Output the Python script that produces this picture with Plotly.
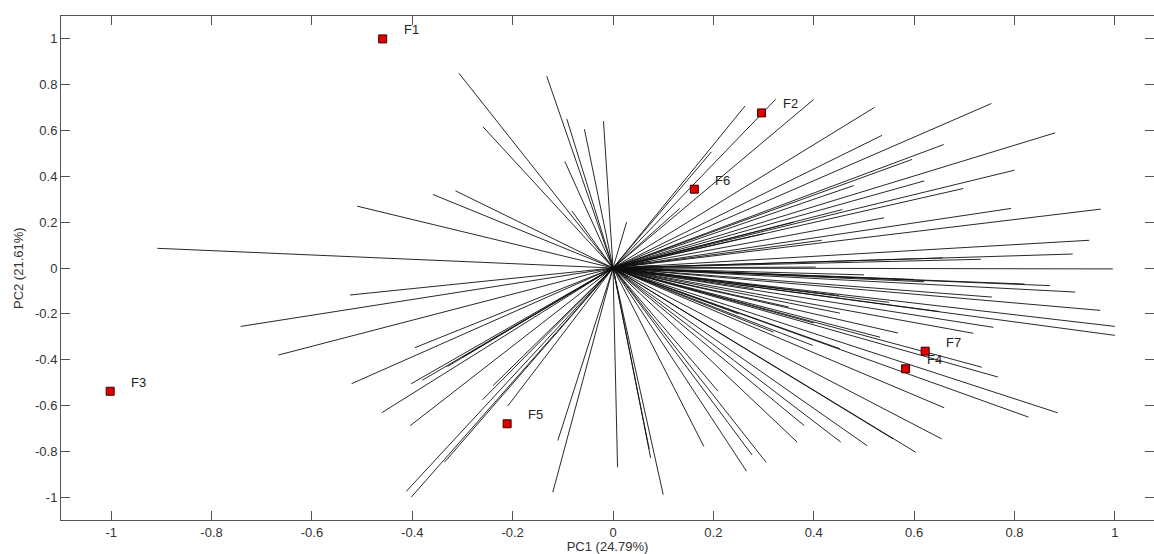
import plotly.graph_objects as go

# Sample scores (red squares)
sample_names = ["F1", "F2", "F3", "F4", "F5", "F6", "F7"]
sample_pc1 = [-0.459, 0.296, -1.002, 0.583, -0.211, 0.162, 0.622]
sample_pc2 = [1.000, 0.677, -0.538, -0.440, -0.680, 0.344, -0.363]

# Variable loadings (line end points, lines start at origin)
loading_pc1 = [
    -0.908, -0.510, -0.307, -0.132, -0.259, -0.092, -0.057, -0.019, -0.096, -0.359,
    -0.314, -0.082, 0.027, 0.263, 0.196, 0.324, 0.400, 0.521, 0.536, 0.754,
    0.659, 0.596, 0.881, 0.800, 0.698, 0.457, 0.540, 0.793, 0.972, 0.416,
    0.949, 0.916, 0.733, 0.996, 0.657, 0.133, 0.404, 0.600, 0.871, 0.921,
    0.755, 0.971, 1.000, 1.000, 0.758, 0.718, 0.568, 0.452, 0.452, 0.398,
    0.532, 0.735, 0.767, 0.886, 0.828, 0.660, 0.655, 0.603, 0.558, 0.506,
    0.454, 0.367, 0.381, 0.305, 0.277, 0.266, 0.209, 0.181, 0.100, 0.075,
    0.072, 0.009, -0.120, -0.110, -0.210, -0.239, -0.260, -0.336, -0.402, -0.412,
    -0.404, -0.402, -0.395, -0.461, -0.521, -0.667, -0.742, -0.524, 0.350, 0.280,
    0.400, 0.320, 0.250, 0.480, 0.620, 0.360, 0.300, 0.080, 0.090, 0.070,
    0.060, 0.085, 0.050, 0.100, 0.075, 0.040, 0.030, 0.620, 0.820, 0.500,
    0.450, 0.550, 0.650, -0.380, -0.330, -0.300,
]
loading_pc2 = [
    0.086, 0.270, 0.850, 0.837, 0.616, 0.650, 0.606, 0.641, 0.465, 0.321,
    0.337, 0.249, 0.200, 0.707, 0.507, 0.736, 0.736, 0.701, 0.579, 0.718,
    0.539, 0.474, 0.590, 0.427, 0.347, 0.255, 0.219, 0.260, 0.257, 0.121,
    0.121, 0.061, 0.038, -0.004, 0.044, 0.260, 0.004, -0.050, -0.077, -0.105,
    -0.127, -0.185, -0.255, -0.294, -0.259, -0.285, -0.284, -0.197, -0.352, -0.338,
    -0.302, -0.433, -0.476, -0.632, -0.651, -0.610, -0.746, -0.804, -0.746, -0.775,
    -0.760, -0.760, -0.688, -0.848, -0.816, -0.887, -0.537, -0.779, -0.989, -0.829,
    -0.790, -0.870, -0.979, -0.753, -0.603, -0.513, -0.575, -0.848, -1.000, -0.975,
    -0.688, -0.505, -0.348, -0.632, -0.505, -0.380, -0.255, -0.118, -0.170, -0.090,
    -0.240, -0.280, -0.200, 0.360, 0.380, 0.200, 0.150, 0.010, -0.010, -0.020,
    0.020, -0.030, -0.010, 0.000, 0.030, 0.030, -0.040, -0.060, -0.070, -0.030,
    -0.120, -0.150, -0.190, -0.490, -0.430, -0.390,
]

x_tick_vals = [-1, -0.8, -0.6, -0.4, -0.2, 0, 0.2, 0.4, 0.6, 0.8, 1]
x_tick_text = ["-1", "-0.8", "-0.6", "-0.4", "-0.2", "0", "0.2", "0.4", "0.6", "0.8", "1"]
y_tick_vals = [-1, -0.8, -0.6, -0.4, -0.2, 0, 0.2, 0.4, 0.6, 0.8, 1]
y_tick_text = ["-1", "-0.8", "-0.6", "-0.4", "-0.2", "0", "0.2", "0.4", "0.6", "0.8", "1"]

x_title = "PC1 (24.79%)"
y_title = "PC2 (21.61%)"

line_x, line_y = [], []
for lx, ly in zip(loading_pc1, loading_pc2):
    line_x += [0, lx, None]
    line_y += [0, ly, None]

fig = go.Figure()
fig.add_trace(go.Scatter(
    x=line_x, y=line_y, mode="lines",
    line=dict(color="#111111", width=0.9),
    hoverinfo="skip", showlegend=False,
))
fig.add_trace(go.Scatter(
    x=sample_pc1, y=sample_pc2, mode="markers",
    marker=dict(symbol="square", size=8, color="#e00000",
                line=dict(color="#3a0000", width=1)),
    text=sample_names, showlegend=False,
))

for name, px, py in zip(sample_names, sample_pc1, sample_pc2):
    fig.add_annotation(x=px, y=py, text=name, showarrow=False,
                       xanchor="left", yanchor="middle", xshift=19, yshift=9,
                       font=dict(family="Liberation Sans, Arial", size=13, color="#222222"))

# y-axis title placed as a rotated annotation to match the reference position
fig.add_annotation(xref="paper", yref="paper", x=-0.0393, y=0.5, text=y_title,
                   textangle=-90, showarrow=False, xanchor="center", yanchor="middle",
                   font=dict(family="Liberation Sans, Arial", size=13, color="#333333"))

axis_common = dict(
    showgrid=False, zeroline=False, showline=True, linecolor="#555555", linewidth=1,
    mirror="ticks", ticks="inside", ticklen=9, tickcolor="#555555", tickwidth=1,
    tickfont=dict(family="Liberation Sans, Arial", size=13, color="#333333"),
)

fig.update_layout(
    width=1154, height=554,
    margin=dict(l=61, r=0, t=16, b=34),
    paper_bgcolor="white", plot_bgcolor="white",
    font=dict(family="Liberation Sans, Arial", size=13, color="#333333"),
    xaxis=dict(range=[-1.1, 1.078], tickvals=x_tick_vals, ticktext=x_tick_text,
               title=dict(text=x_title, standoff=2, font=dict(size=13, color="#333333")),
               **axis_common),
    yaxis=dict(range=[-1.1, 1.1], tickvals=y_tick_vals, ticktext=y_tick_text,
               **axis_common),
)

fig.write_html("out.html", config={"displayModeBar": False},
               post_script="document.body.style.margin='0px';")
